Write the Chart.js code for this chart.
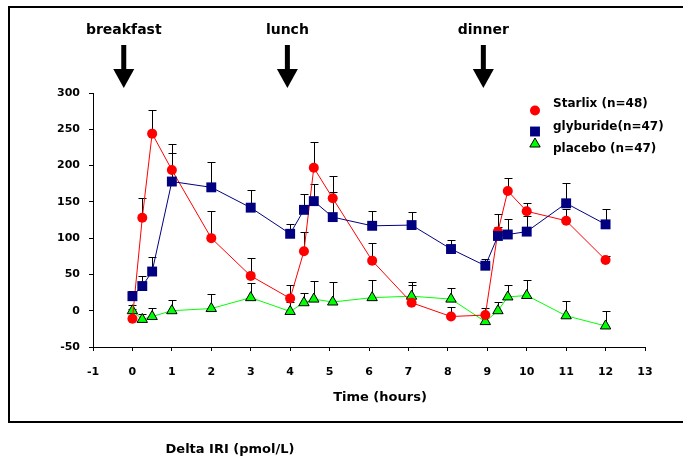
<!DOCTYPE html>
<html>
<head>
<meta charset="utf-8">
<title>Delta IRI</title>
<script src="https://cdn.jsdelivr.net/npm/chart.js@4.4.1/dist/chart.umd.min.js"></script>
<style>
    html, body { margin: 0; padding: 0; background: #fff; }
    #wrap { width: 683px; height: 460px; position: relative; }
</style>
</head>
<body>
<div id="wrap"><canvas id="iriChart" width="683" height="460"></canvas></div>
<script>
/*--------------------------------------------------------------------
Data
--------------------------------------------------------------------*/
const hours = [0, 0.25, 0.5, 1, 2, 3, 4, 4.35, 4.6, 5.08, 6.08, 7.08, 8.08, 8.95, 9.27, 9.52, 10, 11, 12];

const starlix      = [-11, 128, 244, 194, 100, 48, 17, 82, 197, 155, 69, 11, -8, -6, 109, 165, 137, 124, 70];
const starlixTop   = [2, 155, 277, 230, 137, 73, 36, 108, 232, 186, 93, 36, 5, 4, 133, 183, 149, 140, 76];
const glyburide    = [20, 34, 54, 178, 170, 142, 106, 139, 151, 129, 117, 118, 85, 62, 103, 105, 109, 148, 119];
const glyburideTop = [27, 48, 74, 217, 205, 166, 120, 161, 175, 164, 138, 136, 97, 71, 116, 126, 130, 176, 140];
const placebo      = [0, -12, -8, 0, 3, 18, -1, 11, 16, 12, 18, 20, 16, -15, 0, 19, 21, -7, -21];
const placeboTop   = [8, -4, 4, 15, 23, 38, 12, 24, 41, 39, 43, 39, 31, -5, 12, 35, 43, 13, -1];

const seriesLabels = ["Starlix (n=48)", "glyburide(n=47)", "placebo (n=47)"];
const meals = ["breakfast", "lunch", "dinner"];
const mealTimes = [-0.22, 3.93, 8.9];

const xTitle = "Time (hours)";
const yTitle = "Delta IRI (pmol/L)";

const FONT = "'DejaVu Sans', 'Liberation Sans', sans-serif";

function toPoints(values, tops) {
    return hours.map((h, i) => ({ x: h, y: values[i], top: tops[i] }));
}

/*--------------------------------------------------------------------
Plugins
--------------------------------------------------------------------*/
const errorBars = {
    id: "errorBars",
    beforeDatasetsDraw(chart) {
        const { ctx, scales: { x, y } } = chart;
        ctx.save();
        ctx.strokeStyle = "#000";
        ctx.lineWidth = 1;
        chart.data.datasets.forEach(ds => {
            ds.data.forEach(p => {
                const px = Math.round(x.getPixelForValue(p.x)) + 0.5;
                const y0 = y.getPixelForValue(p.y);
                const y1 = Math.round(y.getPixelForValue(p.top)) + 0.5;
                ctx.beginPath();
                ctx.moveTo(px, y0);
                ctx.lineTo(px, y1);
                ctx.moveTo(px - 4, y1);
                ctx.lineTo(px + 4, y1);
                ctx.stroke();
            });
        });
        ctx.restore();
    }
};

const decorations = {
    id: "decorations",
    afterDraw(chart) {
        const { ctx, scales: { x } } = chart;
        ctx.save();

        // outer frame
        ctx.strokeStyle = "#000";
        ctx.lineWidth = 2;
        ctx.strokeRect(9, 7, 700, 415);

        // meal arrows
        ctx.fillStyle = "#000";
        ctx.textAlign = "center";
        ctx.textBaseline = "middle";
        ctx.font = "bold 14px " + FONT;
        meals.forEach((name, i) => {
            const px = x.getPixelForValue(mealTimes[i]);
            ctx.fillText(name, px, 30);
            ctx.fillRect(px - 2.5, 45, 5, 25);
            ctx.beginPath();
            ctx.moveTo(px - 10.5, 69);
            ctx.lineTo(px + 10.5, 69);
            ctx.lineTo(px, 88);
            ctx.closePath();
            ctx.fill();
        });

        // legend
        const markY = [110.5, 131.5, 144];
        const textY = [104, 127, 149];
        ctx.font = "bold 12px " + FONT;
        ctx.textAlign = "left";
        chart.data.datasets.forEach((ds, i) => {
            ctx.fillStyle = ds.pointBackgroundColor;
            ctx.strokeStyle = ds.pointBorderColor;
            ctx.lineWidth = ds.pointBorderWidth;
            Chart.helpers.drawPoint(ctx, {
                pointStyle: ds.pointStyle,
                radius: ds.pointRadius,
                borderWidth: ds.pointBorderWidth,
                rotation: 0
            }, 535, markY[i]);
            ctx.fillStyle = "#000";
            ctx.fillText(seriesLabels[i], 553, textY[i]);
        });

        // axis titles
        ctx.textAlign = "center";
        ctx.font = "bold 13px " + FONT;
        ctx.fillText(xTitle, 380, 398);
        ctx.fillText(yTitle, 230, 450);

        ctx.restore();
    }
};

/*--------------------------------------------------------------------
Chart
--------------------------------------------------------------------*/
const tickFont = { family: FONT, size: 11, weight: "bold" };

new Chart(document.getElementById("iriChart"), {
    type: "line",
    data: {
        datasets: [
            {
                label: seriesLabels[0],
                data: toPoints(starlix, starlixTop),
                borderColor: "#FF0000",
                borderWidth: 1,
                pointStyle: "circle",
                pointRadius: 5,
                pointBackgroundColor: "#FF0000",
                pointBorderColor: "#FF0000",
                pointBorderWidth: 0,
                order: 1
            },
            {
                label: seriesLabels[1],
                data: toPoints(glyburide, glyburideTop),
                borderColor: "#000080",
                borderWidth: 1,
                pointStyle: "rect",
                pointRadius: 7,
                pointBackgroundColor: "#000080",
                pointBorderColor: "#000080",
                pointBorderWidth: 0,
                order: 0
            },
            {
                label: seriesLabels[2],
                data: toPoints(placebo, placeboTop),
                borderColor: "#00FF00",
                borderWidth: 1,
                pointStyle: "triangle",
                pointRadius: 6,
                pointBackgroundColor: "#00FF00",
                pointBorderColor: "#000",
                pointBorderWidth: 1,
                order: 2
            }
        ]
    },
    options: {
        responsive: false,
        animation: false,
        devicePixelRatio: 1,
        layout: { padding: { top: 93, right: 38, left: 0, bottom: 0 } },
        plugins: {
            legend: { display: false },
            tooltip: { enabled: false }
        },
        elements: { line: { tension: 0 } },
        scales: {
            x: {
                type: "linear",
                min: -1,
                max: 13,
                afterFit: s => { s.height = 113; },
                ticks: { stepSize: 1, color: "#000", font: tickFont, padding: 15 },
                grid: { drawOnChartArea: false, drawTicks: true, tickLength: 4, color: "#000" },
                border: { display: true, color: "#000", width: 1 }
            },
            y: {
                min: -50,
                max: 300,
                afterFit: s => { s.width = 93; },
                ticks: { stepSize: 50, color: "#000", font: tickFont, padding: 9 },
                grid: { drawOnChartArea: false, drawTicks: true, tickLength: 4, color: "#000" },
                border: { display: true, color: "#000", width: 1 }
            }
        }
    },
    plugins: [errorBars, decorations]
});
</script>
</body>
</html>
